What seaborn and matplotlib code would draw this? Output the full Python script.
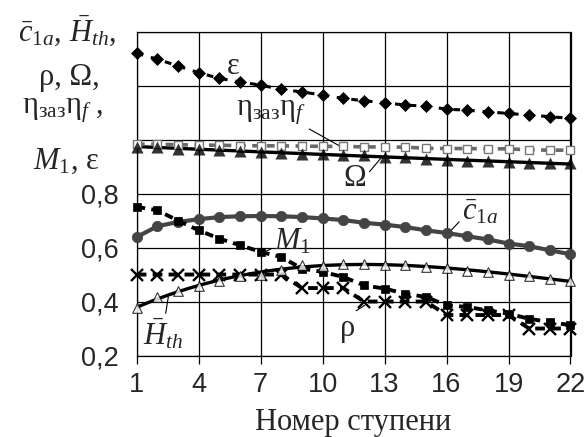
import matplotlib
matplotlib.use("Agg")
import matplotlib.pyplot as plt
import seaborn as sns

# stage numbers along the compressor
stages = list(range(1, 23))

# flow parameters per stage
eps = [1.320, 1.298, 1.273, 1.248, 1.227, 1.214, 1.202, 1.186, 1.177, 1.165, 1.153,
       1.144, 1.137, 1.128, 1.124, 1.113, 1.109, 1.103, 1.097, 1.091, 1.085, 1.079]
eta = [0.983, 0.983, 0.981, 0.980, 0.979, 0.978, 0.977, 0.977, 0.976, 0.975, 0.975,
       0.973, 0.973, 0.972, 0.968, 0.967, 0.967, 0.966, 0.966, 0.962, 0.961, 0.961]
omega = [0.973, 0.972, 0.967, 0.966, 0.961, 0.958, 0.954, 0.950, 0.948, 0.947, 0.942,
         0.942, 0.934, 0.936, 0.930, 0.924, 0.922, 0.921, 0.918, 0.914, 0.912, 0.912]
c1a = [0.639, 0.679, 0.695, 0.705, 0.713, 0.716, 0.717, 0.716, 0.713, 0.708, 0.702,
       0.692, 0.685, 0.676, 0.664, 0.654, 0.642, 0.630, 0.615, 0.605, 0.590, 0.575]
m1 = [0.751, 0.738, 0.700, 0.664, 0.633, 0.609, 0.584, 0.565, 0.522, 0.510, 0.491,
      0.460, 0.448, 0.429, 0.417, 0.386, 0.380, 0.367, 0.355, 0.336, 0.324, 0.312]
rho = [0.50, 0.50, 0.50, 0.50, 0.50, 0.50, 0.50, 0.50, 0.45, 0.45, 0.45,
       0.40, 0.40, 0.40, 0.40, 0.35, 0.35, 0.35, 0.35, 0.30, 0.30, 0.30]
h_th = [0.375, 0.415, 0.440, 0.458, 0.477, 0.495, 0.500, 0.517, 0.535, 0.533, 0.540,
        0.540, 0.537, 0.537, 0.528, 0.525, 0.512, 0.510, 0.500, 0.494, 0.483, 0.477]

x_ticks = [1, 4, 7, 10, 13, 16, 19, 22]
y_ticks = [0.2, 0.4, 0.6, 0.8, 1.0, 1.2, 1.4]
y_tick_labels = ["0,2", "0,4", "0,6", "0,8", "", "", ""]

sns.set_style("ticks")
plt.rcParams["font.family"] = ["Liberation Serif", "DejaVu Serif"]
plt.rcParams["mathtext.fontset"] = "custom"
plt.rcParams["mathtext.rm"] = "Liberation Serif"
plt.rcParams["mathtext.it"] = "Liberation Serif:italic"
plt.rcParams["mathtext.bf"] = "Liberation Serif:bold"

W, H = 585, 437
fig = plt.figure(figsize=(W / 100, H / 100), dpi=100)
ax = fig.add_axes([136.7 / W, 1 - 355.5 / H, (570.5 - 136.7) / W, (355.5 - 31.7) / H])

gray_dark = "#444444"
gray_mid = "#6a6a6a"

# epsilon: black diamonds, dashed
sns.lineplot(x=stages, y=eps, ax=ax, color="black", lw=2.2, ls=(0, (2.2, 2.6)),
             marker="D", ms=6.6, mfc="black", mec="black", mew=0.5, clip_on=False, zorder=4)

# eta_zaz * eta_f: open squares, gray dashed
sns.lineplot(x=stages, y=eta, ax=ax, color=gray_mid, lw=2.6, ls=(0, (2.2, 1.8)),
             marker="s", ms=5.8, mfc="white", mec="#777777", mew=1.0, clip_on=False, zorder=4)

# Omega: filled triangles with quadratic trend
sns.regplot(x=stages, y=omega, ax=ax, order=2, ci=None, truncate=True, marker="^",
            scatter_kws=dict(s=75, color="black", linewidths=0, zorder=5, clip_on=False),
            line_kws=dict(color="black", lw=2.4, zorder=3))

# c1a: gray circles, solid
sns.lineplot(x=stages, y=c1a, ax=ax, color=gray_dark, lw=3.0, marker="o", ms=7.5,
             mfc=gray_dark, mec=gray_dark, mew=0.5, clip_on=False, zorder=4)

# M1: black squares, dashed
sns.lineplot(x=stages, y=m1, ax=ax, color="black", lw=2.8, ls=(0, (2.2, 1.6)),
             marker="s", ms=5.8, mfc="black", mec="black", mew=0.5, clip_on=False, zorder=4)

# rho: crosses, dashed
sns.lineplot(x=stages, y=rho, ax=ax, color="black", lw=2.8, ls=(0, (2.5, 1.6)),
             marker="x", ms=8.5, mec="black", mew=1.7, clip_on=False, zorder=4)

# H_th: open triangles with cubic trend
sns.regplot(x=stages, y=h_th, ax=ax, order=3, ci=None, truncate=True, marker="^",
            scatter_kws=dict(s=48, facecolors="white", edgecolors="black",
                             linewidths=0.8, zorder=6, clip_on=False),
            line_kws=dict(color="black", lw=2.4, zorder=3))

ax.set_xlim(1, 22)
ax.set_ylim(0.2, 1.4)
ax.set_xticks(x_ticks)
ax.set_xticklabels([str(v) for v in x_ticks])
ax.set_yticks(y_ticks)
ax.set_yticklabels(y_tick_labels)
ax.grid(True, color="black", lw=0.9)
ax.set_axisbelow(True)
for s in ax.spines.values():
    s.set_color("black")
    s.set_linewidth(0.9)
ax.tick_params(axis="x", length=6, width=0.9, color="black", pad=6)
ax.tick_params(axis="y", length=0, pad=13)
for lab in ax.get_xticklabels() + ax.get_yticklabels():
    lab.set_fontfamily("Liberation Sans")
    lab.set_fontsize(19.5)
ax.set_xlabel("Номер ступени", fontsize=22, labelpad=7)
ax.set_ylabel("")

# curve labels with leader lines
lab_fs = 22
leader = dict(arrowstyle="-", color="black", lw=0.8, shrinkA=0, shrinkB=0)
ax.annotate("ε", xy=(5.2, 1.232), xytext=(5.68, 1.27), fontsize=lab_fs,
            ha="center", va="center", arrowprops=leader)
ax.annotate(r"$\mathrm{η}_{\mathrm{заз}}\mathrm{η}_{f}$", xy=(10.93, 0.972), xytext=(7.5, 1.10),
            fontsize=lab_fs, ha="center", va="center",
            arrowprops=dict(leader, relpos=(1.0, 0.0)))
ax.annotate("Ω", xy=(12.86, 0.935), xytext=(11.56, 0.856), fontsize=lab_fs,
            ha="center", va="center", arrowprops=dict(leader, relpos=(1.0, 0.6)))
ax.annotate(r"$\bar{c}_{\mathrm{1}a}$", xy=(16.15, 0.658), xytext=(17.65, 0.73),
            fontsize=lab_fs, ha="center", va="center",
            arrowprops=dict(leader, relpos=(0.0, 0.3)))
ax.annotate(r"$M_{\mathrm{1}}$", xy=(7.2, 0.584), xytext=(8.56, 0.623), fontsize=lab_fs,
            ha="center", va="center", arrowprops=dict(leader, relpos=(0.0, 0.3)))
ax.annotate("ρ", xy=(12.04, 0.386), xytext=(11.22, 0.30), fontsize=lab_fs,
            ha="center", va="center", arrowprops=dict(leader, relpos=(0.7, 1.0)))
ax.annotate(r"$\bar{H}_{th}$", xy=(2.53, 0.417), xytext=(2.28, 0.28), fontsize=lab_fs,
            ha="center", va="center", arrowprops=dict(leader, relpos=(0.55, 1.0)))

# stacked axis title on the left
title_lines = [
    (r"$\bar{c}_{\mathrm{1}a}$, $\bar{H}_{th}$,", 67, 31),
    ("ρ, Ω,", 69, 77),
    (r"$\mathrm{η}_{\mathrm{заз}}\mathrm{η}_{f}$ ,", 63, 110),
    (r"$M_{\mathrm{1}}$, ε", 66, 161),
]
for txt, px, py in title_lines:
    fig.text(px / W, 1 - py / H, txt, fontsize=lab_fs, ha="center", va="center")

fig.savefig("out.png", dpi=100)
